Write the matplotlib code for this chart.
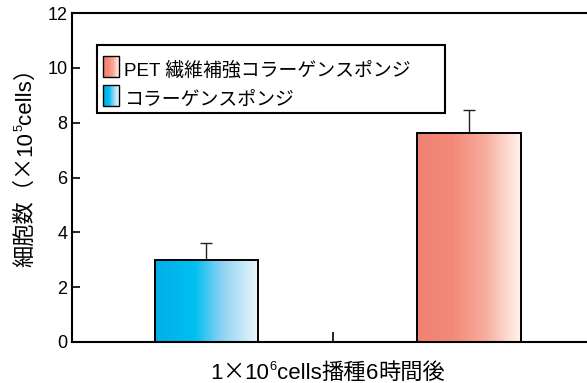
import numpy as np
import matplotlib
matplotlib.use("Agg")
import matplotlib.pyplot as plt
from matplotlib.patches import Rectangle
from matplotlib.colors import LinearSegmentedColormap

LAT = ['Liberation Sans', 'Noto Sans CJK JP', 'DejaVu Sans']
CJK = ['Noto Sans CJK JP', 'DejaVu Sans']
plt.rcParams['font.family'] = LAT

# ---- data ----
categories = ["コラーゲンスポンジ", "PET 繊維補強コラーゲンスポンジ"]
values = [3.0, 7.62]
errors = [0.6, 0.85]
positions = [0.0, 1.0]
yticks = [0, 2, 4, 6, 8, 10, 12]
# label pieces: (text, kind) kind: 'lat', 'cjk', 'sup'
xlabel_parts = [("1", 'lat'), ("×", 'cjk'), ("10", 'lat'), ("6", 'sup'),
                ("cells", 'lat'), ("播種", 'cjk'), ("6", 'lat'), ("時間後", 'cjk')]
ylabel_parts = [("細胞数（×", 'cjk'), ("10", 'lat'),
                ("5", 'sup'), ("cells", 'lat'), ("）", 'cjk')]

blue_cmap = LinearSegmentedColormap.from_list(
    "b", [(0.0, "#00aee8"), (0.38, "#00bff0"), (0.65, "#8fd3f3"), (1.0, "#eef8fd")])
red_cmap = LinearSegmentedColormap.from_list(
    "r", [(0.0, "#f08272"), (0.35, "#f38a78"), (0.65, "#f7ac9c"), (1.0, "#fff4f0")])
cmaps = [blue_cmap, red_cmap]

W, H = 587, 383
fig = plt.figure(figsize=(W/100, H/100), dpi=100)
ax = fig.add_axes([72/W, 41/H, 1 - 72/W + 0.01, (342-13)/H])

width = 0.394
grad = np.linspace(0, 1, 256).reshape(1, -1)
bars = ax.bar(positions, values, width=width, facecolor='none',
              edgecolor='black', linewidth=1.4, zorder=3)
for b, cm in zip(bars, cmaps):
    x0, w, h = b.get_x(), b.get_width(), b.get_height()
    ax.imshow(grad, cmap=cm, aspect='auto', extent=(x0, x0 + w, 0, h),
              zorder=2, interpolation='bilinear')
ax.errorbar(positions, values, yerr=[[0, 0], errors], fmt='none',
            ecolor='#222222', elinewidth=1.0, capsize=4, capthick=1.0, zorder=1)

ax.set_xlim(-0.511, 1.47)
ax.set_ylim(0, 12)
ax.set_yticks(yticks)
ax.set_xticks([0.48])
ax.set_xticklabels([""])
ax.tick_params(axis='y', direction='in', length=6, width=1.2, labelsize=13, pad=3.4)
ax.tick_params(axis='x', direction='in', length=7, width=1.2)
for s in ['left', 'bottom', 'top']:
    ax.spines[s].set_linewidth(1.5)
ax.spines['right'].set_visible(False)

renderer = fig.canvas.get_renderer()
FS = 16

def style(kind):
    if kind == 'lat':
        return dict(fontsize=FS, family=LAT), 0.0
    if kind == 'cjk':
        return dict(fontsize=FS, family=CJK), 0.0
    return dict(fontsize=FS * 0.58, family=LAT), FS * 1.389 * 0.42

def rich(parts, cx, cy, rotation=0):
    widths = []
    for s, k in parts:
        kw, _ = style(k)
        t = fig.text(0, 0, s, **kw)
        widths.append(t.get_window_extent(renderer).width)
        t.remove()
    total = sum(widths)
    pos = -total / 2
    for (s, k), wd in zip(parts, widths):
        kw, rise = style(k)
        if rotation == 0:
            x, y = cx + pos, cy - rise  # pixel coords from top
        else:
            x, y = cx - rise, cy - pos
        fig.text(x / W, 1 - y / H, s, ha='left', va='baseline',
                 rotation=rotation, rotation_mode='anchor', **kw)
        pos += wd

rich(xlabel_parts, 327.5, 379)
rich(ylabel_parts, 31.5, 162, rotation=90)

# ---- legend (manual, gradient swatches) ----
def px(x, y):
    return ax.transAxes.inverted().transform(fig.transFigure.transform((x/W, 1 - y/H)))

(lx0, ly1) = px(97, 45)
(lx1, ly0) = px(445, 113)
ax.add_patch(Rectangle((lx0, ly0), lx1 - lx0, ly1 - ly0, transform=ax.transAxes,
                       facecolor='white', edgecolor='black', linewidth=1.5, zorder=5))
legend_order = [1, 0]
rows = [(56, 77), (85, 106)]
for (ya, yb), idx in zip(rows, legend_order):
    (sx0, sy1) = px(103, ya)
    (sx1, sy0) = px(119, yb)
    ax.imshow(grad, cmap=cmaps[idx], aspect='auto', extent=(sx0, sx1, sy0, sy1),
              transform=ax.transAxes, zorder=6, interpolation='bilinear')
    ax.add_patch(Rectangle((sx0, sy0), sx1 - sx0, sy1 - sy0, transform=ax.transAxes,
                           facecolor='none', edgecolor='black', linewidth=1.0, zorder=7))
    (tx, ty) = px(124.5, yb - 1)
    ax.text(tx, ty, categories[idx], transform=ax.transAxes, ha='left', va='baseline',
            fontsize=13.6, zorder=7)

ax.set_xlim(-0.511, 1.47)
ax.set_ylim(0, 12)
fig.savefig("out.png", dpi=100)
